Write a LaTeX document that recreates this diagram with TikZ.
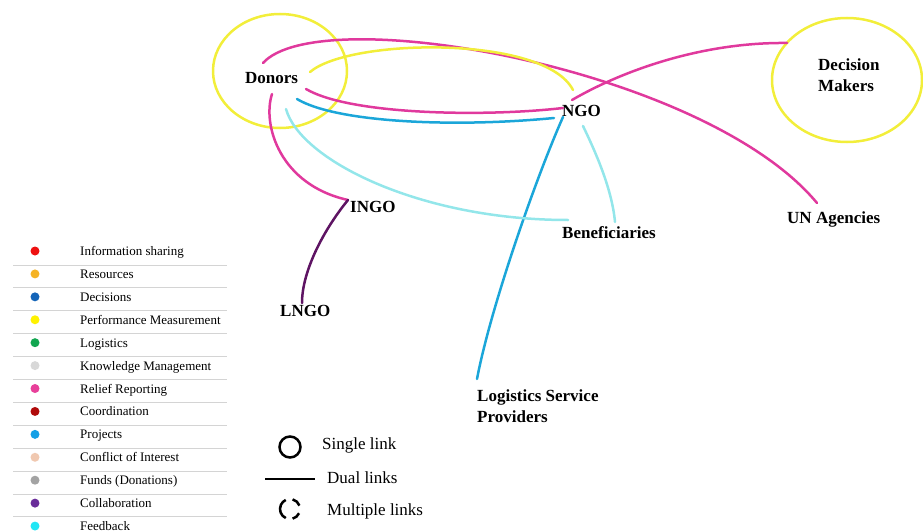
\documentclass[tikz,border=0pt]{standalone}
\usepackage{fontspec}
\setmainfont{Liberation Serif}
\usetikzlibrary{calc}

\definecolor{cInfo}{HTML}{EE1111}
\definecolor{cRes}{HTML}{F5B324}
\definecolor{cDec}{HTML}{1565B8}
\definecolor{cPerf}{HTML}{FFF200}
\definecolor{cLog}{HTML}{12A650}
\definecolor{cKnow}{HTML}{D8D8D8}
\definecolor{cRelief}{HTML}{E8409A}
\definecolor{cCoord}{HTML}{B00A0A}
\definecolor{cProj}{HTML}{14A0E6}
\definecolor{cConf}{HTML}{F0C8B0}
\definecolor{cFunds}{HTML}{A3A3A3}
\definecolor{cCollab}{HTML}{6A2D9A}
\definecolor{cFeed}{HTML}{22E6F5}
% link colours
\definecolor{lMag}{HTML}{E0399D}
\definecolor{lYel}{HTML}{F2EE3A}
\definecolor{lBlue}{HTML}{1BA6D9}
\definecolor{lCyan}{HTML}{93E6EA}
\definecolor{lPurp}{HTML}{5E1463}
\definecolor{sepgray}{HTML}{D4D4D4}

\tikzset{
  actor/.style={inner sep=0pt, anchor=base west, font=\fontsize{17}{21}\selectfont\bfseries},
  actorml/.style={inner sep=0pt, anchor=north west, align=left, font=\fontsize{17}{21}\selectfont\bfseries},
  link/.style={line width=2.5pt, line cap=round},
  legtext/.style={inner sep=0pt, anchor=base west, font=\fontsize{13}{15}\selectfont},
  keytext/.style={inner sep=0pt, anchor=base west, font=\fontsize{17}{20}\selectfont},
  legdot/.style={circle, inner sep=0pt, minimum size=9pt},
  ringline/.style={lYel, line width=2.5pt}
}

\begin{document}
\begin{tikzpicture}[x=1pt, y=-1pt]
\useasboundingbox (0,0) rectangle (923,532);

% stakeholder ellipses
\coordinate (donC) at (280,71);
\coordinate (dmC) at (847,80);
\draw[ringline] (donC) ellipse [x radius=67, y radius=57];
\draw[ringline] (dmC) ellipse [x radius=75, y radius=62];

% actors
\node[actor] (donors) at (245,84) {Donors};
\node[actorml] (dm) at (818,58.5) {Decision\\Makers};
\node[actor] (ngo) at (562,117) {NGO};
\node[actor] (ingo) at (350,212) {INGO};
\node[actor] (ben) at (562,238) {Beneficiaries};
\node[actor] (un) at (787,223) {UN Agencies};
\node[actor] (lngo) at (280,316) {LNGO};
\node[actorml] (lsp) at (477,389.5) {Logistics Service\\Providers};

% link end points
\coordinate (dUN) at (263,63);
\coordinate (unD) at (817,203);
\coordinate (dNy) at (310,72);
\coordinate (nDy) at (573,90);
\coordinate (dNm) at (306,89);
\coordinate (nDm) at (563,108);
\coordinate (nDM) at (572,100);
\coordinate (dmN) at (787,43);
\coordinate (dNb) at (297,99);
\coordinate (nDb) at (554,118);
\coordinate (nL) at (563,117);
\coordinate (lN) at (477,379);
\coordinate (dB) at (286,109);
\coordinate (bD) at (568,220);
\coordinate (nB) at (583,126);
\coordinate (bN) at (615,222);
\coordinate (dI) at (272,94);
\coordinate (iD) at (348,200);
\coordinate (iL) at (348,200);
\coordinate (lI) at (302,303);

% links
\draw[link, lMag] (dUN) .. controls (320,0) and (705,68) .. (unD);
\draw[link, lYel] (dNy) .. controls (350,38) and (545,35) .. (nDy);
\draw[link, lMag] (dNm) .. controls (350,115) and (485,117) .. (nDm);
\draw[link, lMag] (nDM) .. controls (620,72) and (700,42) .. (dmN);
\draw[link, lBlue] (dNb) .. controls (335,122) and (450,128) .. (nDb);
\draw[link, lBlue] (nL) .. controls (535,180) and (490,310) .. (lN);
\draw[link, lCyan] (dB) .. controls (300,160) and (420,220) .. (bD);
\draw[link, lCyan] (nB) .. controls (597,155) and (612,190) .. (bN);
\draw[link, lMag] (dI) .. controls (262,125) and (280,185) .. (iD);
\draw[link, lPurp] (iL) .. controls (325,228) and (302,270) .. (lI);

% colour legend
\foreach \c/\t [count=\i from 0] in {
  cInfo/Information sharing, cRes/Resources, cDec/Decisions,
  cPerf/Performance Measurement, cLog/Logistics, cKnow/Knowledge Management,
  cRelief/Relief Reporting, cCoord/Coordination, cProj/Projects,
  cConf/Conflict of Interest, cFunds/Funds (Donations),
  cCollab/Collaboration, cFeed/Feedback} {
  \node[legdot, fill=\c] (dot\i) at (35,251+\i*22.92) {};
  \node[legtext] (lab\i) at (80,255.5+\i*22.92) {\t};
}
\foreach \i in {0,...,11} {
  \draw[sepgray, line width=1pt] (13,265+\i*22.9) -- (227,265+\i*22.9);
}

% link-type key
\coordinate (kSingle) at (290,447);
\coordinate (kMulti) at (290,509);
\coordinate (kA) at (265,479);
\coordinate (kB) at (315,479);
\draw[line width=2.5pt] (kSingle) circle [radius=10.5];
\draw[line width=2pt] (kA) -- (kB);
\draw[line width=2.5pt] ($(kMulti)+(115:10)$) arc [start angle=115, end angle=245, radius=10];
\draw[line width=2.5pt] ($(kMulti)+(-75:10)$) arc [start angle=-75, end angle=-20, radius=10];
\draw[line width=2.5pt] ($(kMulti)+(25:10)$) arc [start angle=25, end angle=75, radius=10];
\node[keytext] (kt1) at (322,449) {Single link};
\node[keytext] (kt2) at (327,483) {Dual links};
\node[keytext] (kt3) at (327,515) {Multiple links};
\end{tikzpicture}
\end{document}
